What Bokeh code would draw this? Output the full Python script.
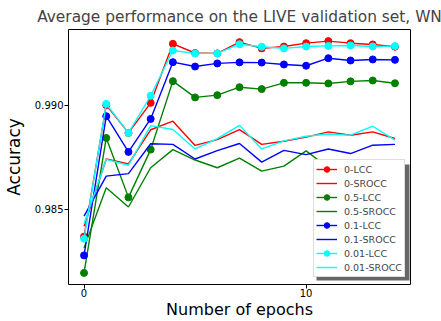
from bokeh.plotting import figure
from bokeh.models import Range1d, FixedTicker, NumeralTickFormatter, Legend, LegendItem, BoxAnnotation
from bokeh.embed import file_html
from bokeh.resources import INLINE

epochs = list(range(15))

lcc_0 = [0.98370, 0.99000, 0.98867, 0.99011, 0.99294, 0.99250, 0.99248, 0.99302,
         0.99272, 0.99281, 0.99297, 0.99307, 0.99297, 0.99291, 0.99280]
srocc_0 = [0.98420, 0.98742, 0.98718, 0.98882, 0.98923, 0.98807, 0.98835, 0.98883,
           0.98812, 0.98827, 0.98847, 0.98872, 0.98856, 0.98872, 0.98840]
lcc_05 = [0.98196, 0.98843, 0.98558, 0.98787, 0.99115, 0.99037, 0.99048, 0.99086,
          0.99077, 0.99107, 0.99107, 0.99104, 0.99114, 0.99118, 0.99105]
srocc_05 = [0.98316, 0.98604, 0.98512, 0.98700, 0.98787, 0.98737, 0.98700, 0.98746,
            0.98684, 0.98708, 0.98781, 0.98700, 0.98715, 0.98735, 0.98722]
lcc_01 = [0.98280, 0.98947, 0.98776, 0.98934, 0.99206, 0.99185, 0.99200, 0.99205,
          0.99204, 0.99195, 0.99189, 0.99225, 0.99214, 0.99219, 0.99217]
srocc_01 = [0.98468, 0.98660, 0.98672, 0.98815, 0.98812, 0.98742, 0.98782, 0.98816,
            0.98727, 0.98783, 0.98763, 0.98790, 0.98768, 0.98808, 0.98812]
lcc_001 = [0.98360, 0.99006, 0.98867, 0.99045, 0.99262, 0.99248, 0.99248, 0.99292,
           0.99280, 0.99272, 0.99281, 0.99284, 0.99286, 0.99281, 0.99283]
srocc_001 = [0.98432, 0.98740, 0.98712, 0.98902, 0.98883, 0.98790, 0.98840, 0.98903,
             0.98790, 0.98829, 0.98851, 0.98862, 0.98856, 0.98899, 0.98832]

series = [
    ("0-LCC", lcc_0, "#ff0000", True),
    ("0-SROCC", srocc_0, "#ff0000", False),
    ("0.5-LCC", lcc_05, "#008000", True),
    ("0.5-SROCC", srocc_05, "#008000", False),
    ("0.1-LCC", lcc_01, "#0000ff", True),
    ("0.1-SROCC", srocc_01, "#0000ff", False),
    ("0.01-LCC", lcc_001, "#00ffff", True),
    ("0.01-SROCC", srocc_001, "#00ffff", False),
]

x_ticks = [0, 10]
y_ticks = [0.985, 0.990]

all_vals = [v for s in series for v in s[1]]
ymin, ymax = min(all_vals), max(all_vals)
ypad = (ymax - ymin) * 0.05
xpad = (max(epochs) - min(epochs)) * 0.05

FONT = "DejaVu Sans"
FRAME_W = 343  # 441 - 67 - 31

p = figure(width=441, height=321, output_backend="svg", toolbar_location=None,
           x_range=Range1d(min(epochs) - xpad, max(epochs) + xpad),
           y_range=Range1d(ymin - ypad, ymax + ypad),
           min_border_left=67, min_border_right=31, min_border_top=29, min_border_bottom=37)

p.title.text = "Average performance on the LIVE validation set, WN"
p.title.align = "center"
p.title.text_font = FONT
p.title.text_font_size = "15.4px"
p.title.text_font_style = "normal"
p.title.standoff = 7

p.grid.visible = False
p.outline_line_color = "black"
p.outline_line_width = 1
p.outline_line_alpha = 1
p.background_fill_color = "white"
p.border_fill_color = "white"

for ax in (p.xaxis[0], p.yaxis[0]):
    ax.axis_line_color = None
    ax.major_tick_line_color = "black"
    ax.major_tick_out = 4
    ax.major_tick_in = 0
    ax.minor_tick_line_color = None
    ax.major_label_text_font = FONT
    ax.major_label_text_font_size = "10px"
    ax.major_label_text_color = "black"
    ax.axis_label_text_font = FONT
    ax.axis_label_text_font_style = "normal"
    ax.axis_label_text_color = "black"

p.xaxis.ticker = FixedTicker(ticks=x_ticks)
p.yaxis.ticker = FixedTicker(ticks=y_ticks)
p.yaxis.formatter = NumeralTickFormatter(format="0.000")
p.xaxis.axis_label = "Number of epochs"
p.yaxis.axis_label = "Accuracy"
p.xaxis.axis_label_text_font_size = "16px"
p.yaxis.axis_label_text_font_size = "17px"
p.xaxis.major_label_standoff = 0
p.yaxis.major_label_standoff = 1
p.xaxis.axis_label_standoff = 0
p.yaxis.axis_label_standoff = 8

items = []
for name, vals, color, marker in series:
    rs = [p.line(epochs, vals, line_color=color, line_width=1.4)]
    if marker:
        rs.append(p.scatter(epochs, vals, marker="circle", size=7,
                            fill_color=color, line_color=color))
    items.append(LegendItem(label=name, renderers=rs))

LEG_W, LEG_H = 93, 116
leg_left, leg_bottom = FRAME_W - 5 - LEG_W, 7
shadow = BoxAnnotation(left=leg_left + 3, right=leg_left + LEG_W + 3,
                       bottom=leg_bottom - 3, top=leg_bottom + LEG_H - 3,
                       left_units="screen", right_units="screen",
                       top_units="screen", bottom_units="screen",
                       fill_color="#555555", fill_alpha=0.9, line_color=None)
p.add_layout(shadow)

legend = Legend(items=items, location=(leg_left, leg_bottom), orientation="vertical",
                label_text_font=FONT, label_text_font_size="9.5px",
                glyph_width=21, glyph_height=14, label_height=14,
                label_standoff=7, spacing=0, padding=2, margin=0,
                border_line_color="#bbbbbb", border_line_width=1,
                background_fill_color="white", background_fill_alpha=1)
p.add_layout(legend, "center")

open("out.html", "w").write(file_html(p, INLINE))
